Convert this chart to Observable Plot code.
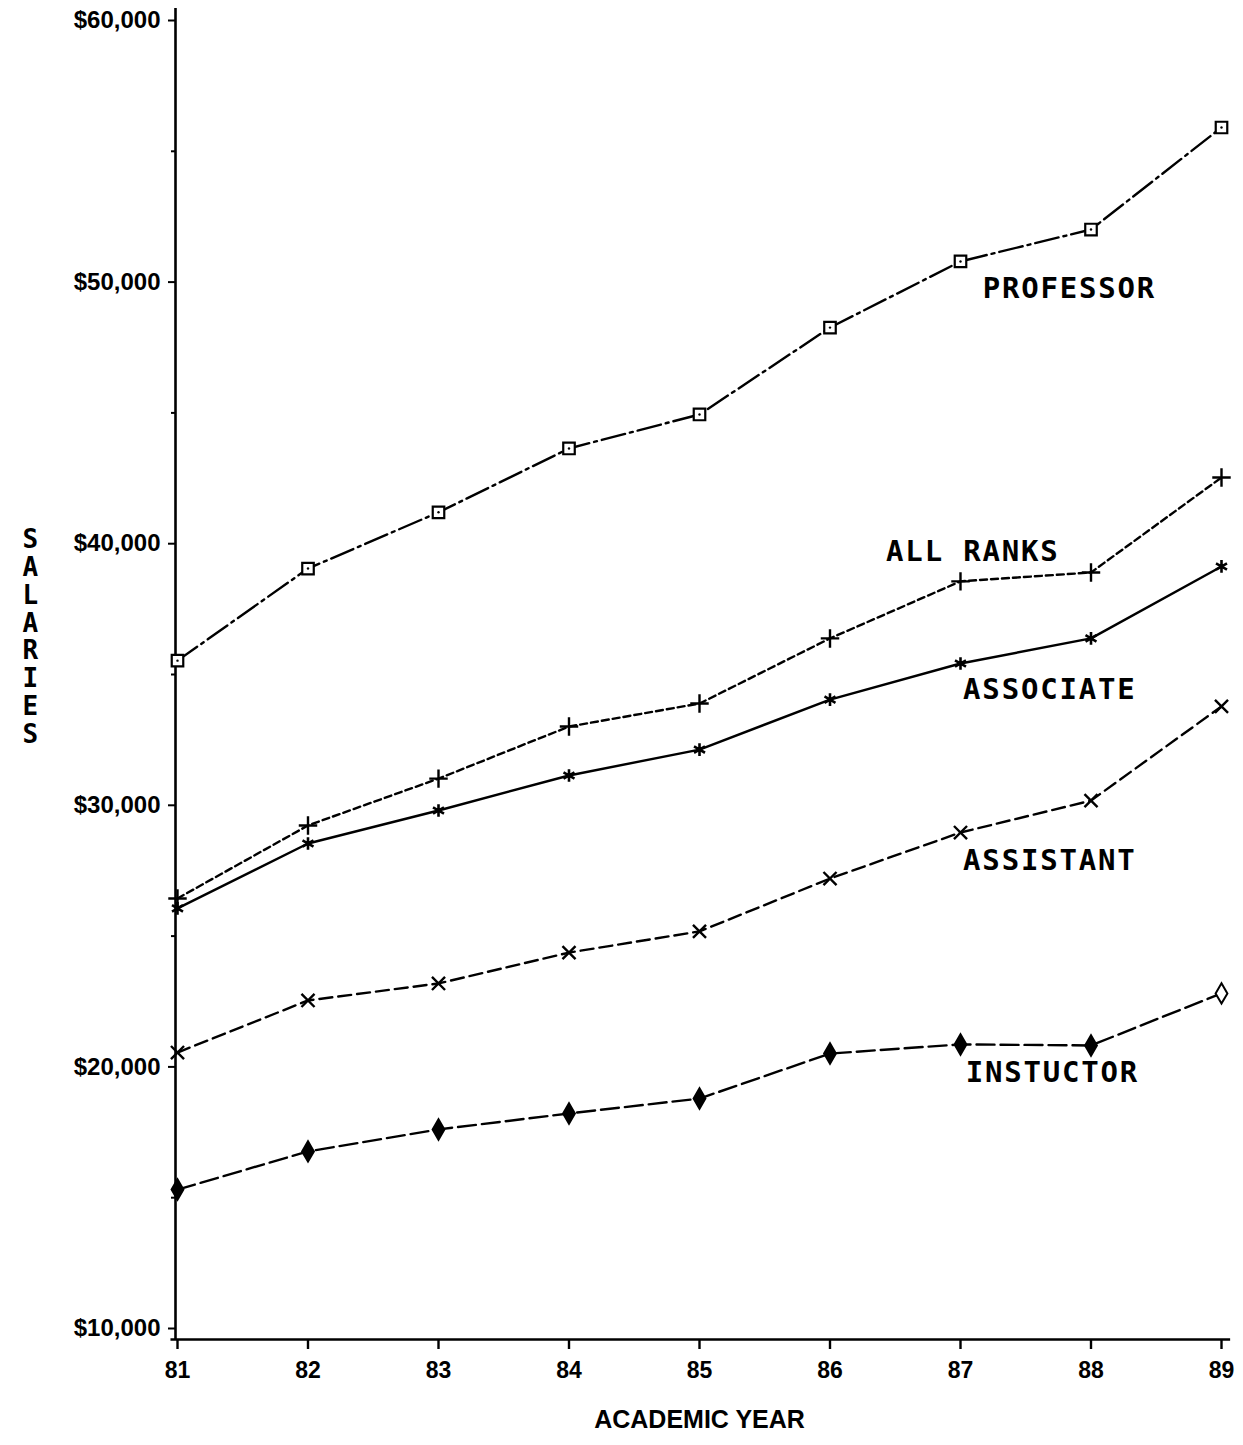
<!DOCTYPE html>
<html>
<head>
<meta charset="utf-8">
<script src="https://cdn.jsdelivr.net/npm/d3@7"></script>
<script src="https://cdn.jsdelivr.net/npm/@observablehq/plot@0.6"></script>
<style>
  html, body { margin: 0; padding: 0; background: #fff; }
  #chart svg { display: block; }
</style>
</head>
<body>
<div id="chart"></div>
<script>
const years = [81, 82, 83, 84, 85, 86, 87, 88, 89];
const professor  = [35530, 39050, 41200, 43640, 44940, 48260, 50790, 52010, 55910];
const allRanks   = [26440, 29230, 31020, 33010, 33890, 36380, 38560, 38900, 42530];
const associate  = [26060, 28540, 29800, 31140, 32130, 34040, 35420, 36380, 39130];
const assistant  = [20550, 22540, 23190, 24370, 25180, 27200, 28960, 30180, 33780];
const instructor = [15310, 16770, 17610, 18220, 18790, 20510, 20860, 20820, 22810];

const majorTicks = [10000, 20000, 30000, 40000, 50000, 60000];
const minorTicks = [15000, 25000, 35000, 45000, 55000];

const labelNames  = ["PROFESSOR", "ALL RANKS", "ASSOCIATE", "ASSISTANT", "INSTUCTOR"];
const labelYears  = [87.17, 86.43, 87.02, 87.02, 87.04];
const labelValues = [49760, 39700, 34430, 27890, 19790];

const xTitle = "ACADEMIC YEAR";
const yTitle = "SALARIES";

const rows = (vals) => years.map((yr, i) => ({year: yr, value: vals[i], i}));
const P = rows(professor), A = rows(allRanks), S = rows(associate), T = rows(assistant), I = rows(instructor);
const labels = labelNames.map((n, i) => ({name: n, year: labelYears[i], value: labelValues[i]}));

const money = d => "$" + d3.format(",")(d);
const sw = 2.4;

const chart = Plot.plot({
  width: 1243,
  height: 1445,
  marginLeft: 177,
  marginRight: 22,
  marginTop: 20,
  marginBottom: 117,
  style: {background: "#fff", color: "#000", fontFamily: "Liberation Sans"},
  x: {domain: [81, 89], axis: null},
  y: {domain: [10000, 60000], axis: null},
  marks: [
    // axis lines
    Plot.ruleX([81], {y1: 9580, y2: 60460, stroke: "#000", strokeWidth: 2.6, dx: -2}),
    Plot.ruleY([9580], {x1: 80.95, x2: 89.07, stroke: "#000", strokeWidth: 2.6}),
    // y axis
    Plot.axisY({ticks: majorTicks, tickSize: 7, tickPadding: 8, dx: -2, tickFormat: money, label: null,
      fontSize: 24, fontWeight: "bold", fontFamily: "Liberation Sans", strokeWidth: 2}),
    Plot.axisY({ticks: minorTicks, tickSize: 4, dx: -2, tickFormat: () => "", label: null, strokeWidth: 2}),
    // x axis
    Plot.axisX({ticks: years, tickSize: 10, tickPadding: 12, dy: 11, tickFormat: d => String(d), label: null,
      fontSize: 23, fontWeight: "bold", fontFamily: "Liberation Sans", strokeWidth: 2.4}),
    // lines
    Plot.line(P, {x: "year", y: "value", stroke: "#000", strokeWidth: sw, strokeDasharray: "24,5,3,5"}),
    Plot.line(A, {x: "year", y: "value", stroke: "#000", strokeWidth: sw, strokeDasharray: "7,4"}),
    Plot.line(S, {x: "year", y: "value", stroke: "#000", strokeWidth: sw}),
    Plot.line(T, {x: "year", y: "value", stroke: "#000", strokeWidth: sw, strokeDasharray: "13,6"}),
    Plot.line(I, {x: "year", y: "value", stroke: "#000", strokeWidth: sw, strokeDasharray: "18,6"}),
    // markers
    Plot.dot(P, {x: "year", y: "value", symbol: "square", r: 6.5, fill: "#fff", stroke: "#000", strokeWidth: 2.2}),
    Plot.dot(P, {x: "year", y: "value", r: 1.2, fill: "#000"}),
    Plot.dot(A, {x: "year", y: "value", symbol: "plus", r: 6, stroke: "#000", strokeWidth: 2.4}),
    Plot.dot(S, {x: "year", y: "value", symbol: "asterisk", r: 6, stroke: "#000", strokeWidth: 2.6}),
    Plot.dot(T, {x: "year", y: "value", symbol: "times", r: 6, stroke: "#000", strokeWidth: 2.4}),
    Plot.dot(I, {x: "year", y: "value", symbol: "diamond", r: 6.2, stroke: "#000", strokeWidth: 2,
      fill: d => d.year === 89 ? "#fff" : "#000"}),
    // series labels
    Plot.text(labels, {x: "year", y: "value", text: "name", textAnchor: "start", fontSize: 29,
      fontWeight: "bold", fontFamily: "DejaVu Sans Mono", fill: "#000"}),
    // axis titles
    Plot.text([xTitle], {frameAnchor: "bottom", dy: 99, fontSize: 25, fontFamily: "Liberation Sans",
      fontWeight: "bold", fill: "#000"}),
    Plot.text([yTitle.split("").join("\n")], {frameAnchor: "left", dx: -155, dy: -38, lineHeight: 1.07,
      fontSize: 26, fontWeight: "bold", fontFamily: "DejaVu Sans Mono", fill: "#000"})
  ]
});

d3.select(chart).selectAll("text")
  .filter(function () { return labelNames.includes(this.textContent); })
  .attr("letter-spacing", "1.8")
  .style("letter-spacing", "1.8px");

document.getElementById("chart").appendChild(chart);
</script>
</body>
</html>
